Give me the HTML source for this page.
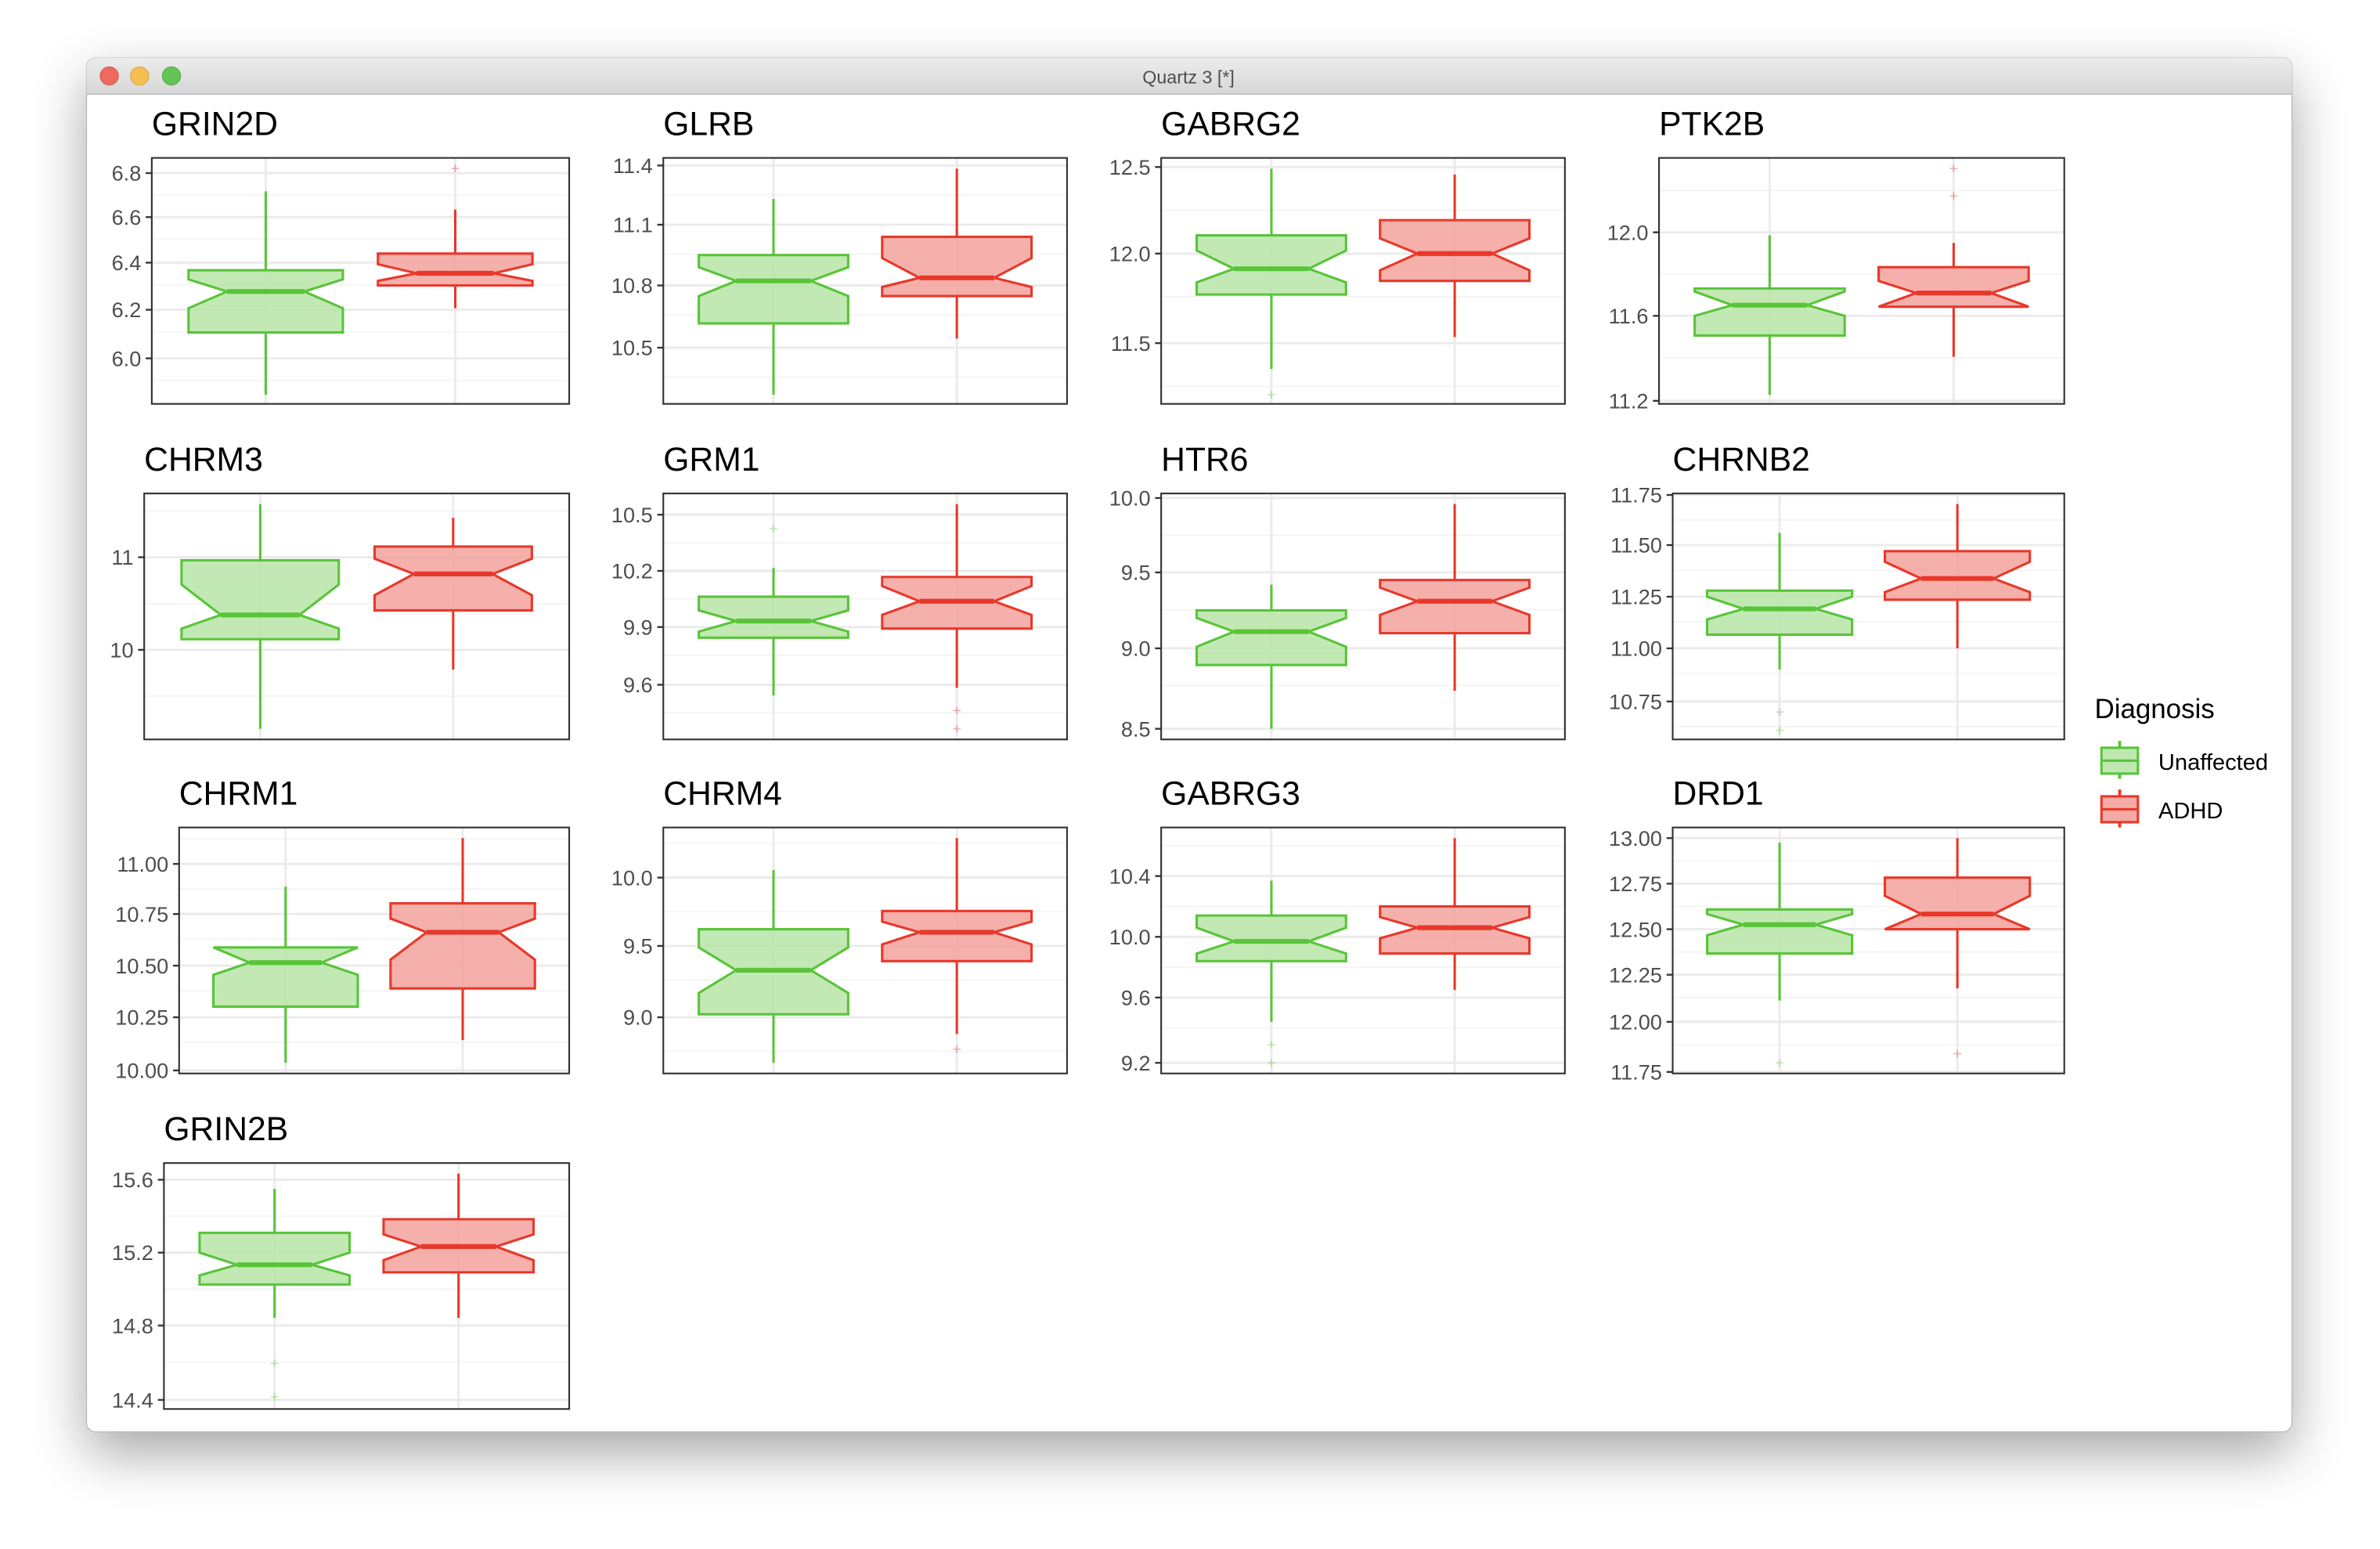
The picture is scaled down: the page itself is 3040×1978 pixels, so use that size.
<!DOCTYPE html>
<html><head><meta charset="utf-8"><style>
html,body{margin:0;padding:0;background:#fff;width:3040px;height:1978px;overflow:hidden}
svg{display:block}
text{font-family:"Liberation Sans",Arial,sans-serif}
</style></head><body>
<svg id="s" width="3040" height="1978" viewBox="0 0 1568 1020.2" preserveAspectRatio="none" xmlns="http://www.w3.org/2000/svg">
<defs>
<filter id="sh" x="-10%" y="-10%" width="120%" height="130%"><feGaussianBlur stdDeviation="18"/></filter>
<linearGradient id="tb" x1="0" y1="0" x2="0" y2="1"><stop offset="0" stop-color="#ececec"/><stop offset="1" stop-color="#d6d6d6"/></linearGradient>
</defs>
<rect x="0" y="0" width="1568" height="1021" fill="#ffffff"/>
<rect x="57" y="52" width="1453" height="905" rx="6" fill="#000" opacity="0.35" filter="url(#sh)"/>
<rect x="57" y="38" width="1453" height="905" rx="6" fill="#fff" stroke="#b5b5b5" stroke-width="0.6"/>
<path d="M57 62 V44 a6 6 0 0 1 6 -6 H1504 a6 6 0 0 1 6 6 V62 Z" fill="url(#tb)"/>
<line x1="57" y1="62" x2="1510" y2="62" stroke="#b9b9b9" stroke-width="0.7"/>
<circle cx="72" cy="50" r="6" fill="#ee6a5f" stroke="#d2544a" stroke-width="0.5"/>
<circle cx="92" cy="50" r="6" fill="#f5be4f" stroke="#d8a23b" stroke-width="0.5"/>
<circle cx="113" cy="50" r="6" fill="#62c555" stroke="#4ea743" stroke-width="0.5"/>
<text x="783" y="55" font-size="12" fill="#4d4d4d" text-anchor="middle">Quartz 3 [*]</text>
<g id="plots"></g>
<text x="1380" y="473" font-size="18" fill="#000">Diagnosis</text>
<g>
<line x1="1396.5" y1="488" x2="1396.5" y2="513" stroke="#59c43a" stroke-width="2"/>
<rect x="1384.5" y="492.5" width="24" height="17" fill="#bfe8b0" stroke="#59c43a" stroke-width="1.6"/>
<line x1="1384.5" y1="501" x2="1408.5" y2="501" stroke="#59c43a" stroke-width="1.6"/>
<text x="1422" y="507" font-size="15" fill="#000">Unaffected</text>
<line x1="1396.5" y1="520" x2="1396.5" y2="545" stroke="#e8382a" stroke-width="2"/>
<rect x="1384.5" y="524.5" width="24" height="17" fill="#f4aba5" stroke="#e8382a" stroke-width="1.6"/>
<line x1="1384.5" y1="533" x2="1408.5" y2="533" stroke="#e8382a" stroke-width="1.6"/>
<text x="1422" y="539" font-size="15" fill="#000">ADHD</text>
</g>
</svg>
<script>
var P=[
{t:"GRIN2D",x0:100,x1:375,y0:104,y1:266,tk:[["6.8",114],["6.6",143],["6.4",173],["6.2",204],["6.0",236]],g:[260,219,203,192,184,178,126],r:[203,188,185,180,174,167,138],go:[],ro:[111]},
{t:"GLRB",x0:437,x1:703,y0:104,y1:266,tk:[["11.4",109],["11.1",148],["10.8",188],["10.5",229]],g:[260,213,195,185,176,168,131],r:[223,195,189,183,170,156,111],go:[],ro:[]},
{t:"GABRG2",x0:765,x1:1031,y0:104,y1:266,tk:[["12.5",110],["12.0",167],["11.5",226]],g:[243,194,186,177,165,155,111],r:[222,185,178,167,157,145,115],go:[260],ro:[]},
{t:"PTK2B",x0:1093,x1:1360,y0:104,y1:266,tk:[["12.0",153],["11.6",208],["11.2",264]],g:[260,221,208,201,192,190,155],r:[235,202,202,193,185,176,160],go:[],ro:[111,129]},
{t:"CHRM3",x0:95,x1:375,y0:325,y1:487,tk:[["11",367],["10",428]],g:[480,421,414,405,385,369,332],r:[441,402,392,378,368,360,341],go:[],ro:[]},
{t:"GRM1",x0:437,x1:703,y0:325,y1:487,tk:[["10.5",339],["10.2",376],["9.9",413],["9.6",451]],g:[458,420,416,409,402,393,374],r:[453,414,405,396,386,380,332],go:[348],ro:[468,480]},
{t:"HTR6",x0:765,x1:1031,y0:325,y1:487,tk:[["10.0",328],["9.5",377],["9.0",427],["8.5",480]],g:[480,438,426,416,407,402,385],r:[455,417,405,396,387,382,332],go:[],ro:[]},
{t:"CHRNB2",x0:1102,x1:1360,y0:325,y1:487,tk:[["11.75",326],["11.50",359],["11.25",393],["11.00",427],["10.75",462]],g:[441,418,408,401,393,389,351],r:[427,395,390,381,370,363,332],go:[469,481],ro:[]},
{t:"CHRM1",x0:118,x1:375,y0:545,y1:707,tk:[["11.00",569],["10.75",602],["10.50",636],["10.25",670],["10.00",705]],g:[700,663,642,634,624,624,584],r:[685,651,632,614,605,595,552],go:[],ro:[]},
{t:"CHRM4",x0:437,x1:703,y0:545,y1:707,tk:[["10.0",578],["9.5",623],["9.0",670]],g:[700,668,654,639,624,612,573],r:[681,633,622,614,607,600,552],go:[],ro:[691]},
{t:"GABRG3",x0:765,x1:1031,y0:545,y1:707,tk:[["10.4",577],["10.0",617],["9.6",657],["9.2",700]],g:[673,633,628,620,611,603,580],r:[652,628,618,611,604,597,552],go:[688,700],ro:[]},
{t:"DRD1",x0:1102,x1:1360,y0:545,y1:707,tk:[["13.00",552],["12.75",582],["12.50",612],["12.25",642],["12.00",673],["11.75",706]],g:[659,628,616,609,602,599,555],r:[651,612,612,602,590,578,552],go:[700],ro:[694]},
{t:"GRIN2B",x0:108,x1:375,y0:766,y1:928,tk:[["15.6",777],["15.2",825],["14.8",873],["14.4",922]],g:[868,846,840,833,825,812,783],r:[868,838,830,821,813,803,773],go:[898,920],ro:[]}
];
var h="";
P.forEach(function(p){
 var W=p.x1-p.x0;
 h+='<rect x="'+p.x0+'" y="'+p.y0+'" width="'+W+'" height="'+(p.y1-p.y0)+'" fill="#fff"/>';
 // minor grid
 var t=p.tk,st=t.length>1?(t[1][1]-t[0][1]):60;
 for(var k=-1;k<t.length;k++){var y=(k<0?t[0][1]:t[k][1])+(k<0?-st/2:st/2);if(y>p.y0+1&&y<p.y1-1)h+='<line x1="'+p.x0+'" x2="'+p.x1+'" y1="'+y+'" y2="'+y+'" stroke="#f2f2f2" stroke-width="0.8"/>';}
 t.forEach(function(a){h+='<line x1="'+p.x0+'" x2="'+p.x1+'" y1="'+a[1]+'" y2="'+a[1]+'" stroke="#ebebeb" stroke-width="1.5"/>';
  h+='<line x1="'+(p.x0-4)+'" x2="'+p.x0+'" y1="'+a[1]+'" y2="'+a[1]+'" stroke="#333" stroke-width="1.2"/>';
  h+='<text x="'+(p.x0-7)+'" y="'+(a[1]+5)+'" font-size="14" fill="#4d4d4d" text-anchor="end">'+a[0]+'</text>';});
 var cs=[p.x0+0.273*W,p.x0+0.727*W];
 cs.forEach(function(c){h+='<line x1="'+c+'" x2="'+c+'" y1="'+p.y0+'" y2="'+p.y1+'" stroke="#ebebeb" stroke-width="1.5"/>';});
 function box(c,d,sc,fc,outs){
  var hw=0.185*W,nw=hw*0.5,L=c-hw,R=c+hw;
  h+='<line x1="'+c+'" x2="'+c+'" y1="'+d[6]+'" y2="'+d[5]+'" stroke="'+sc+'" stroke-width="1.6"/>';
  h+='<line x1="'+c+'" x2="'+c+'" y1="'+d[1]+'" y2="'+d[0]+'" stroke="'+sc+'" stroke-width="1.6"/>';
  var pts=[[L,d[5]],[R,d[5]],[R,d[4]],[c+nw,d[3]],[R,d[2]],[R,d[1]],[L,d[1]],[L,d[2]],[c-nw,d[3]],[L,d[4]]];
  h+='<polygon points="'+pts.map(function(q){return q[0].toFixed(1)+','+q[1];}).join(' ')+'" fill="'+fc+'" fill-opacity="0.85" stroke="'+sc+'" stroke-width="1.6" stroke-linejoin="miter"/>';
  h+='<line x1="'+(c-nw)+'" x2="'+(c+nw)+'" y1="'+d[3]+'" y2="'+d[3]+'" stroke="'+sc+'" stroke-width="3.2"/>';
  outs.forEach(function(y){h+='<path d="M'+(c-2.5)+' '+y+'h5M'+c+' '+(y-2.5)+'v5" stroke="'+sc+'" stroke-opacity="0.4" stroke-width="0.8"/>';});
 }
 box(cs[0],p.g,"#59c43a","#b7e5a6",p.go);
 box(cs[1],p.r,"#e8382a","#f3a29c",p.ro);
 h+='<rect x="'+p.x0+'" y="'+p.y0+'" width="'+W+'" height="'+(p.y1-p.y0)+'" fill="none" stroke="#333" stroke-width="1.1"/>';
 h+='<text x="'+p.x0+'" y="'+(p.y0-15)+'" font-size="22" fill="#000">'+p.t+'</text>';
});
document.getElementById("plots").innerHTML=h;
</script>
</body></html>
